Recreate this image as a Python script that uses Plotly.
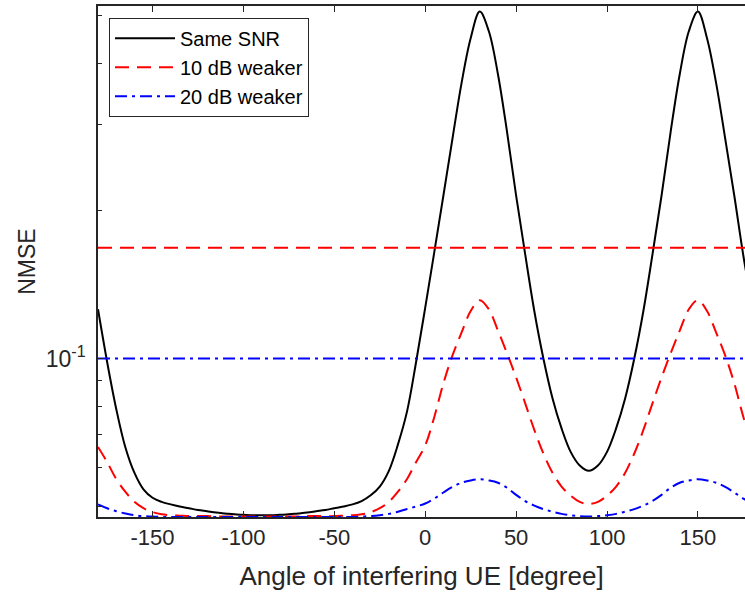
import plotly.graph_objects as go

# Angle of the interfering UE, degrees
angles = list(range(-180, 181, 5))

# NMSE versus interferer angle (MMSE-type estimate)
nmse_same_snr = [
    0.126, 0.0985, 0.079, 0.0660, 0.0585, 0.0541, 0.0520, 0.0510, 0.0504, 0.0499,
    0.0495, 0.0491, 0.0488, 0.0485, 0.0483, 0.0481, 0.0480, 0.0479, 0.0479, 0.0479,
    0.0480, 0.0481, 0.0483, 0.0485, 0.0488, 0.0491, 0.0495, 0.0499, 0.0504, 0.0512,
    0.0526, 0.0548, 0.0590, 0.0668, 0.0780, 0.0985, 0.127, 0.165, 0.215, 0.281,
    0.365, 0.450, 0.510, 0.465, 0.380, 0.290, 0.215, 0.163, 0.125, 0.100,
    0.0830, 0.0720, 0.0645, 0.0605, 0.0590, 0.0605, 0.0645, 0.0720, 0.0830, 0.100,
    0.125, 0.163, 0.215, 0.290, 0.380, 0.465, 0.510, 0.450, 0.365, 0.281,
    0.215, 0.162, 0.127,
]
nmse_10db = [
    0.0660, 0.0615, 0.0568, 0.0535, 0.0510, 0.0495, 0.0486, 0.0481, 0.0479, 0.0478,
    0.0477, 0.0477, 0.0477, 0.0476, 0.0476, 0.0476, 0.0476, 0.0476, 0.0476, 0.0476,
    0.0476, 0.0476, 0.0476, 0.0477, 0.0477, 0.0477, 0.0477, 0.0478, 0.0479, 0.0481,
    0.0486, 0.0495, 0.0510, 0.0535, 0.0568, 0.0615, 0.0665, 0.0760, 0.0890, 0.1015,
    0.113, 0.125, 0.1315, 0.126, 0.114, 0.1025, 0.0915, 0.0810, 0.0715, 0.0640,
    0.0585, 0.0548, 0.0525, 0.0510, 0.0505, 0.0510, 0.0525, 0.0548, 0.0585, 0.0640,
    0.0715, 0.0810, 0.0915, 0.1025, 0.114, 0.126, 0.1315, 0.125, 0.113, 0.1015,
    0.0890, 0.0760, 0.0665,
]
nmse_20db = [
    0.0504, 0.0495, 0.0488, 0.0483, 0.0479, 0.0477, 0.0476, 0.0475, 0.0475, 0.0475,
    0.0475, 0.0475, 0.0475, 0.0475, 0.0475, 0.0475, 0.0475, 0.0475, 0.0475, 0.0475,
    0.0475, 0.0475, 0.0475, 0.0475, 0.0475, 0.0475, 0.0475, 0.0475, 0.0475, 0.0476,
    0.0477, 0.0479, 0.0482, 0.0487, 0.0493, 0.0499, 0.0506, 0.0518, 0.0533, 0.0547,
    0.0558, 0.0564, 0.0567, 0.0564, 0.0558, 0.0545, 0.0527, 0.0512, 0.0501, 0.0493,
    0.0487, 0.0482, 0.0479, 0.0477, 0.0476, 0.0477, 0.0479, 0.0482, 0.0487, 0.0493,
    0.0501, 0.0512, 0.0527, 0.0545, 0.0558, 0.0564, 0.0567, 0.0564, 0.0558, 0.0547,
    0.0533, 0.0518, 0.0506,
]

# Angle-independent reference levels (LS-type estimate)
flat_angles = [-180, 180]
flat_10db = [0.1683, 0.1683]
flat_20db = [0.100, 0.100]

series_names = ["Same SNR", "10 dB weaker", "20 dB weaker"]
x_ticks = [-150, -100, -50, 0, 50, 100, 150]
x_tick_text = ["-150", "-100", "-50", "0", "50", "100", "150"]
y_major = [0.1]
y_major_text = ["10<sup>-1</sup>"]
y_minor = [0.05, 0.06, 0.07, 0.08, 0.09, 0.2, 0.3, 0.4, 0.5]

font_family = "Liberation Sans, Arial, Helvetica, sans-serif"
axis_gray = "#262626"
red_dash = "14px,8px"
blue_dashdot = "12px,5px,3px,5px"

fig = go.Figure()
fig.add_trace(go.Scatter(x=angles, y=nmse_same_snr, mode="lines", name=series_names[0],
                         line=dict(color="black", width=2, shape="spline")))
fig.add_trace(go.Scatter(x=angles, y=nmse_10db, mode="lines", name=series_names[1],
                         line=dict(color="#ff0000", width=2, dash=red_dash, shape="spline")))
fig.add_trace(go.Scatter(x=angles, y=nmse_20db, mode="lines", name=series_names[2],
                         line=dict(color="#0000ff", width=2, dash=blue_dashdot, shape="spline")))
fig.add_trace(go.Scatter(x=flat_angles, y=flat_10db, mode="lines", showlegend=False,
                         line=dict(color="#ff0000", width=2, dash=red_dash)))
fig.add_trace(go.Scatter(x=flat_angles, y=flat_20db, mode="lines", showlegend=False,
                         line=dict(color="#0000ff", width=2, dash=blue_dashdot)))

fig.update_layout(
    width=745, height=597,
    margin=dict(l=98, r=0, t=6, b=80),
    paper_bgcolor="white", plot_bgcolor="white",
    font=dict(family=font_family, size=22, color=axis_gray),
    legend=dict(
        x=0.017, y=0.977, xanchor="left", yanchor="top",
        bgcolor="white", bordercolor=axis_gray, borderwidth=1,
        font=dict(size=20, color="black"), itemwidth=60,
        tracegroupgap=0,
    ),
)
fig.update_xaxes(
    range=[-180, 175.9], showgrid=False, zeroline=False,
    showline=True, linecolor=axis_gray, linewidth=1.5, mirror="ticks",
    ticks="inside", ticklen=6, tickcolor=axis_gray, tickwidth=1,
    tickvals=x_ticks, ticktext=x_tick_text, tickfont=dict(size=22, color=axis_gray),
    title=dict(text="Angle of interfering UE [degree]", font=dict(size=26, color=axis_gray), standoff=18),
)
fig.update_yaxes(
    type="log", range=[-1.3233, -0.281], showgrid=False, zeroline=False,
    showline=True, linecolor=axis_gray, linewidth=1.5, mirror=False,
    ticks="inside", ticklen=6, tickcolor=axis_gray, tickwidth=1,
    tickvals=y_major, ticktext=y_major_text, tickfont=dict(size=23, color=axis_gray),
    ticklabelstandoff=6,
    minor=dict(ticks="inside", ticklen=4, tickcolor=axis_gray, tickvals=y_minor, showgrid=False),
    title=dict(text="NMSE", font=dict(size=23, color=axis_gray), standoff=4),
)

fig.write_html("out.html")
